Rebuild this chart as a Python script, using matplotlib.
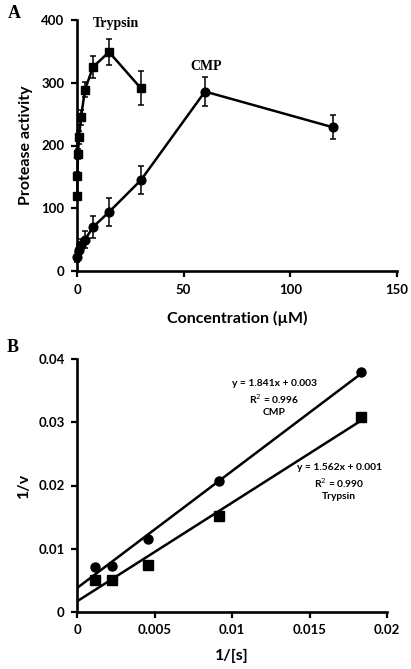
import numpy as np
import matplotlib
matplotlib.use("Agg")
import matplotlib.pyplot as plt

# --- Panel A data: protease activity vs concentration ---
trypsin_conc = [0.12, 0.23, 0.47, 0.94, 1.875, 3.75, 7.5, 15, 30]
trypsin_act = [120, 152, 187, 213, 245, 289, 325, 349, 291]
trypsin_err = [5, 6, 8, 10, 12, 12, 18, 20, 27]

cmp_conc = [0.23, 0.94, 1.875, 3.75, 7.5, 15, 30, 60, 120]
cmp_act = [22, 33, 41, 50, 70, 94, 145, 286, 229]
cmp_err = [8, 10, 10, 13, 18, 22, 23, 23, 19]

# --- Panel B data: Lineweaver-Burk ---
inv_s = [0.00114, 0.00228, 0.00459, 0.00916, 0.01834]
inv_v_cmp = [0.00713, 0.00734, 0.01147, 0.02077, 0.03789]
inv_v_trypsin = [0.00502, 0.00513, 0.0075, 0.01522, 0.0309]

SANS = "Lato"
SERIF = "Liberation Serif"

fig = plt.figure(figsize=(4.11, 6.69), dpi=100)
W, H = 411, 669


def make_axes(l, t, r, b):
    return fig.add_axes([l / W, 1 - b / H, (r - l) / W, (b - t) / H])


def style(ax):
    for s in ["top", "right"]:
        ax.spines[s].set_visible(False)
    for s in ["left", "bottom"]:
        ax.spines[s].set_linewidth(1.9)
    ax.tick_params(direction="out", length=4, width=1.6, pad=5)
    for lab in ax.get_xticklabels() + ax.get_yticklabels():
        lab.set_fontfamily(SANS)
        lab.set_fontweight("bold")
        lab.set_fontsize(9.5)


# ===== Panel A =====
axA = make_axes(77, 20, 397, 271)
axA.errorbar(trypsin_conc, trypsin_act, yerr=trypsin_err, color="black",
             marker="s", markersize=6.3, linewidth=1.8, elinewidth=1.1,
             capsize=2.5, capthick=1.1, clip_on=False)
axA.errorbar(cmp_conc, cmp_act, yerr=cmp_err, color="black",
             marker="o", markersize=6.3, linewidth=1.8, elinewidth=1.1,
             capsize=2.5, capthick=1.1, clip_on=False)
axA.set_xlim(0, 150)
axA.set_ylim(0, 400)
axA.set_xticks([0, 50, 100, 150])
axA.set_yticks([0, 100, 200, 300, 400])
style(axA)
axA.set_xlabel("Concentration (\u00b5M)", fontfamily=SANS, fontsize=11.5,
               fontweight="bold", labelpad=11)
axA.set_ylabel("Protease activity", fontfamily=SANS, fontsize=11.5,
               fontweight="bold", labelpad=6)
fig.text(116 / W, 1 - 24 / H, "Trypsin", family=SERIF, fontsize=10,
         fontweight="bold", ha="center", va="center")
fig.text(206 / W, 1 - 66 / H, "CMP", family=SERIF, fontsize=10,
         fontweight="bold", ha="center", va="center")
fig.text(14 / W, 1 - 14 / H, "A", family=SERIF, fontsize=13,
         fontweight="bold", ha="center", va="center")

# ===== Panel B =====
axB = make_axes(77, 359, 387, 612)
xs = np.array([0, inv_s[-1]])
for yv, mk in [(inv_v_cmp, "o"), (inv_v_trypsin, "s")]:
    k, c = np.polyfit(inv_s, yv, 1)
    axB.plot(xs, k * xs + c, color="black", linewidth=1.8)
    axB.plot(inv_s, yv, linestyle="none", marker=mk, markersize=6.5,
             color="black", clip_on=False)
axB.set_xlim(0, 0.02)
axB.set_ylim(0, 0.04)
xt = [0, 0.005, 0.01, 0.015, 0.02]
yt = [0, 0.01, 0.02, 0.03, 0.04]
axB.set_xticks(xt)
axB.set_xticklabels(["%g" % v for v in xt])
axB.set_yticks(yt)
axB.set_yticklabels(["%g" % v for v in yt])
style(axB)
axB.set_xlabel("1/[s]", fontfamily=SANS, fontsize=11.5, fontweight="bold",
               labelpad=9)
axB.set_ylabel("1/v", fontfamily=SANS, fontsize=11.5, fontweight="bold",
               labelpad=5)
fig.text(274 / W, 1 - 398 / H, "y = 1.841x + 0.003\nR$^2$ = 0.996\nCMP",
         family=SANS, fontsize=7.4, fontweight="bold", ha="center",
         va="center", linespacing=1.3)
fig.text(339 / W, 1 - 482 / H, "y = 1.562x + 0.001\nR$^2$ = 0.990\nTrypsin",
         family=SANS, fontsize=7.4, fontweight="bold", ha="center",
         va="center", linespacing=1.3)
fig.text(13 / W, 1 - 347 / H, "B", family=SERIF, fontsize=13,
         fontweight="bold", ha="center", va="center")

fig.savefig("out.png", dpi=100)
